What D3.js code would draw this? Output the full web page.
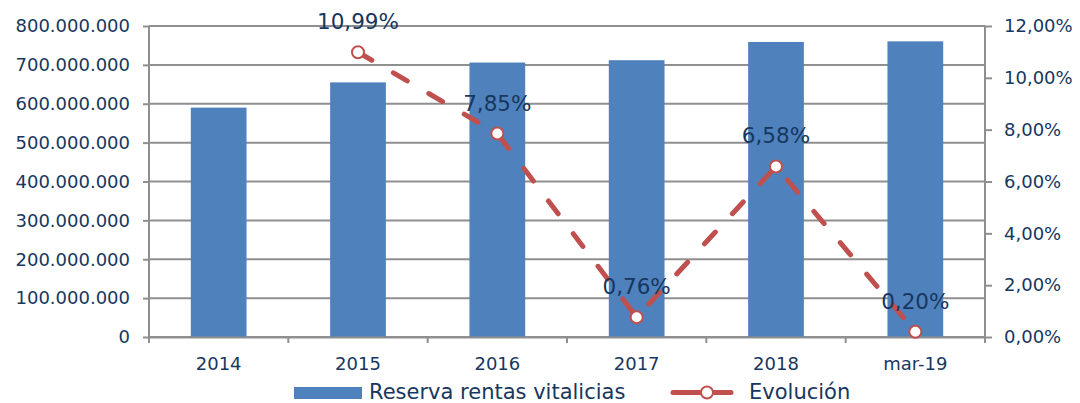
<!DOCTYPE html>
<html>
<head>
<meta charset="utf-8">
<script src="https://cdn.jsdelivr.net/npm/d3@7"></script>
<style>
  body { margin: 0; background: #fff; }
  text { font-family: "DejaVu Sans", Verdana, sans-serif; fill: #17375E; }
</style>
</head>
<body>
<div id="chart"></div>
<script>
// data
const categories = ["2014", "2015", "2016", "2017", "2018", "mar-19"];
const reserva = [590000000, 655000000, 706000000, 712000000, 759000000, 760500000];
const evolucion = [null, 0.1099, 0.0785, 0.0076, 0.0658, 0.0020];
const leftTicks = [0, 100000000, 200000000, 300000000, 400000000, 500000000, 600000000, 700000000, 800000000];
const rightTicks = [0, 0.02, 0.04, 0.06, 0.08, 0.10, 0.12];

const width = 1080, height = 403;
const margin = { top: 26, right: 95, bottom: 66, left: 149 };
const w = width - margin.left - margin.right;
const h = height - margin.top - margin.bottom;

const locale = d3.formatLocale({ decimal: ",", thousands: ".", grouping: [3], currency: ["", "€"] });
const fmtNum = locale.format(",.0f");
const fmtPct = locale.format(".2%");

const svg = d3.select("#chart").append("svg")
  .attr("width", width).attr("height", height);
const g = svg.append("g").attr("transform", `translate(${margin.left},${margin.top})`);

const x = d3.scaleBand().domain(categories).range([0, w]).paddingInner(0.6).paddingOuter(0.3);
const xCat = d3.scaleBand().domain(categories).range([0, w]).padding(0);
const y = d3.scaleLinear().domain([0, 800000000]).range([h, 0]);
const y2 = d3.scaleLinear().domain([0, 0.12]).range([h, 0]);

const gridColor = "#8f8f8f";

// gridlines
g.selectAll(".grid").data(leftTicks).enter().append("line")
  .attr("x1", 0).attr("x2", w)
  .attr("y1", d => y(d)).attr("y2", d => y(d))
  .attr("stroke", gridColor).attr("stroke-width", 2);

// bars
g.selectAll(".bar").data(reserva).enter().append("rect")
  .attr("x", (d, i) => x(categories[i]))
  .attr("width", x.bandwidth())
  .attr("y", d => y(d))
  .attr("height", d => h - y(d))
  .attr("fill", "#4F81BD");

// left axis
const yAxis = g.append("g")
  .call(d3.axisLeft(y).tickValues(leftTicks).tickFormat(fmtNum).tickSize(6).tickPadding(13));
yAxis.select(".domain").attr("d", `M0,0V${h + 6}`).attr("stroke", gridColor).attr("stroke-width", 2);
yAxis.selectAll(".tick line").attr("stroke", gridColor).attr("stroke-width", 2);
yAxis.selectAll("text").style("font-size", "18px").attr("fill", "#17375E");

// right axis
const y2Axis = g.append("g").attr("transform", `translate(${w},0)`)
  .call(d3.axisRight(y2).tickValues(rightTicks).tickFormat(fmtPct).tickSize(7).tickPadding(12));
y2Axis.select(".domain").attr("d", `M0,0V${h + 6}`).attr("stroke", gridColor).attr("stroke-width", 2);
y2Axis.selectAll(".tick line").attr("stroke", gridColor).attr("stroke-width", 2);
y2Axis.selectAll("text").style("font-size", "18px").attr("fill", "#17375E");

// bottom axis: ticks at category boundaries
const xAxis = g.append("g").attr("transform", `translate(0,${h})`)
  .call(d3.axisBottom(xCat).tickSize(0).tickPadding(20));
xAxis.select(".domain").attr("stroke", gridColor).attr("stroke-width", 2);
xAxis.selectAll("text").style("font-size", "18px").attr("fill", "#17375E");
g.append("g").attr("transform", `translate(0,${h})`)
  .selectAll("line").data(categories.slice(1)).enter().append("line")
  .attr("x1", d => xCat(d)).attr("x2", d => xCat(d))
  .attr("y1", 0).attr("y2", 6)
  .attr("stroke", gridColor).attr("stroke-width", 2);

// evolution line
const pts = evolucion.map((v, i) => ({ c: categories[i], v })).filter(d => d.v !== null);
const line = d3.line()
  .x(d => xCat(d.c) + xCat.bandwidth() / 2)
  .y(d => y2(d.v));
g.append("path").datum(pts)
  .attr("d", line)
  .attr("fill", "none")
  .attr("stroke", "#C0504D")
  .attr("stroke-width", 5)
  .attr("stroke-linecap", "round")
  .attr("stroke-dasharray", "16,25");

g.selectAll(".dot").data(pts).enter().append("circle")
  .attr("cx", d => xCat(d.c) + xCat.bandwidth() / 2)
  .attr("cy", d => y2(d.v))
  .attr("r", 6)
  .attr("fill", "#fff")
  .attr("stroke", "#C0504D")
  .attr("stroke-width", 2);

g.selectAll(".lbl").data(pts).enter().append("text")
  .attr("x", d => xCat(d.c) + xCat.bandwidth() / 2)
  .attr("y", d => y2(d.v) - 23)
  .attr("text-anchor", "middle")
  .style("font-size", "21.5px")
  .text(d => fmtPct(d.v));

// legend
const leg = svg.append("g");
leg.append("rect").attr("x", 294).attr("y", 387).attr("width", 68).attr("height", 12).attr("fill", "#4F81BD");
leg.append("text").attr("x", 369).attr("y", 399).style("font-size", "21px").text("Reserva rentas vitalicias");
leg.append("line").attr("x1", 673).attr("x2", 731).attr("y1", 392.5).attr("y2", 392.5)
  .attr("stroke", "#C0504D").attr("stroke-width", 5).attr("stroke-linecap", "round");
leg.append("circle").attr("cx", 707).attr("cy", 392.5).attr("r", 6)
  .attr("fill", "#fff").attr("stroke", "#C0504D").attr("stroke-width", 2);
leg.append("text").attr("x", 749).attr("y", 399).style("font-size", "21px").text("Evolución");
</script>
</body>
</html>
